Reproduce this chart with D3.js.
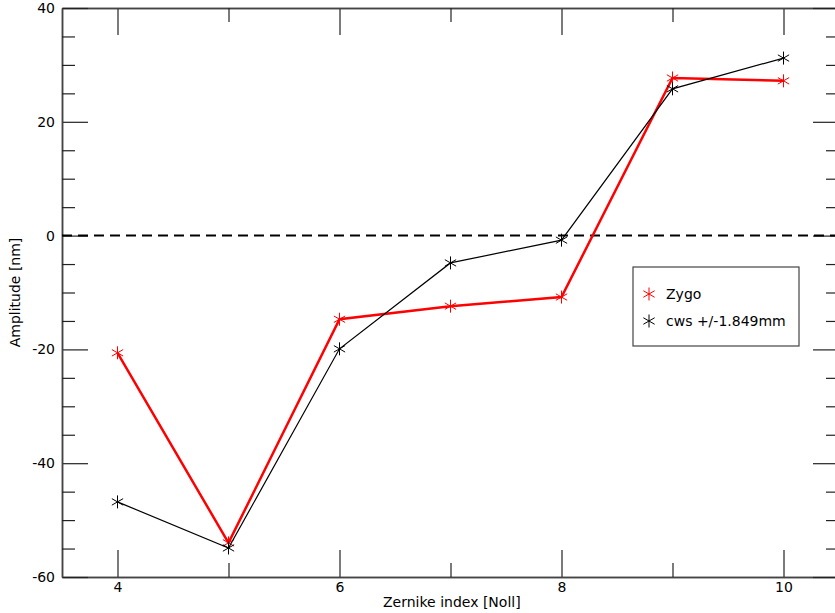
<!DOCTYPE html>
<html lang="en">
    <head>
        <meta charset="UTF-8">
        <title>zernike</title>
        <script src="https://cdn.jsdelivr.net/npm/d3@7"></script>
        <style>
            body { margin: 0; background: #fff; }
            text { font-family: "DejaVu Sans", sans-serif; }
        </style>
    </head>
    <body>
        <div id="chart"></div>
    </body>
    <script>
        // data
        var zernikeIndex = [4, 5, 6, 7, 8, 9, 10];
        var zygo = [-20.6, -54.0, -14.7, -12.4, -10.8, 27.7, 27.2];
        var cws = [-46.8, -54.9, -19.9, -4.8, -0.8, 25.8, 31.2];
        var xMajorTicks = [4, 6, 8, 10];
        var xMinorTicks = [5, 7, 9];
        var yMajorTicks = [-60, -40, -20, 0, 20, 40];
        var yMinorTicks = [-55, -50, -45, -35, -30, -25, -15, -10, -5, 5, 10, 15, 25, 30, 35];
        var legendNames = ["Zygo", "cws +/-1.849mm"];

        var width = 835, height = 613;
        var padding = {top: 8, left: 62, bottom: 36};
        var plotW = 777, plotH = height - padding.top - padding.bottom;

        var svg = d3.select("#chart").append("svg")
            .attr("width", width)
            .attr("height", height);

        var xScale = d3.scaleLinear().domain([3.5, 10.5]).range([0, plotW]);
        var yScale = d3.scaleLinear().domain([-60, 40]).range([plotH, 0]);

        var g = svg.append("g")
            .attr("transform", "translate(" + padding.left + "," + padding.top + ")");

        // plain hyphen minus like the original
        var plain = function (d) { return String(d); };

        //坐标轴
        function styleAxis(sel) {
            sel.select(".domain").attr("stroke", "#444").attr("stroke-width", 1.5);
            sel.selectAll(".tick line").attr("stroke", "#222").attr("stroke-width", 1.2);
            sel.selectAll(".tick text").attr("fill", "#000").style("font-size", "14px")
                .style("font-family", "DejaVu Sans, sans-serif");
        }
        g.append("g").attr("transform", "translate(0," + plotH + ")")
            .call(d3.axisBottom(xScale).tickValues(xMajorTicks).tickFormat(plain).tickSize(-27).tickPadding(5).tickSizeOuter(0))
            .call(styleAxis);
        g.append("g").attr("transform", "translate(0," + plotH + ")")
            .call(d3.axisBottom(xScale).tickValues(xMinorTicks).tickSize(-14).tickFormat("").tickSizeOuter(0))
            .call(styleAxis);
        g.append("g")
            .call(d3.axisTop(xScale).tickValues(xMajorTicks).tickSize(-27).tickFormat("").tickSizeOuter(0))
            .call(styleAxis);
        g.append("g")
            .call(d3.axisTop(xScale).tickValues(xMinorTicks).tickSize(-14).tickFormat("").tickSizeOuter(0))
            .call(styleAxis);
        g.append("g")
            .call(d3.axisLeft(yScale).tickValues(yMajorTicks).tickFormat(plain).tickSize(-26).tickPadding(7).tickSizeOuter(0))
            .call(styleAxis);
        g.append("g")
            .call(d3.axisLeft(yScale).tickValues(yMinorTicks).tickSize(-13).tickFormat("").tickSizeOuter(0))
            .call(styleAxis);
        g.append("g").attr("transform", "translate(" + plotW + ",0)")
            .call(d3.axisRight(yScale).tickValues(yMajorTicks).tickSize(-26).tickFormat("").tickSizeOuter(0))
            .call(styleAxis);
        g.append("g").attr("transform", "translate(" + plotW + ",0)")
            .call(d3.axisRight(yScale).tickValues(yMinorTicks).tickSize(-13).tickFormat("").tickSizeOuter(0))
            .call(styleAxis);

        //零线
        g.append("line")
            .attr("x1", 0).attr("x2", plotW)
            .attr("y1", yScale(0)).attr("y2", yScale(0))
            .attr("stroke", "#000")
            .attr("stroke-width", 2)
            .attr("stroke-dasharray", "10,6");

        //星号
        function asterisk(sel, r) {
            [90, 30, 150].forEach(function (a) {
                var rad = a * Math.PI / 180;
                sel.append("line")
                    .attr("x1", -r * Math.cos(rad)).attr("y1", -r * Math.sin(rad))
                    .attr("x2", r * Math.cos(rad)).attr("y2", r * Math.sin(rad));
            });
        }

        var series = [
            {name: legendNames[0], values: zygo, color: "#ff0000", width: 2.5},
            {name: legendNames[1], values: cws, color: "#000000", width: 1.2}
        ];

        var line = d3.line()
            .x(function (d, i) { return xScale(zernikeIndex[i]); })
            .y(function (d) { return yScale(d); });

        series.forEach(function (s) {
            g.append("path")
                .datum(s.values)
                .attr("fill", "none")
                .attr("stroke", s.color)
                .attr("stroke-width", s.width)
                .attr("d", line);
            g.selectAll(null)
                .data(s.values)
                .enter()
                .append("g")
                .attr("transform", function (d, i) {
                    return "translate(" + xScale(zernikeIndex[i]) + "," + yScale(d) + ")";
                })
                .attr("stroke", s.color)
                .attr("stroke-width", 1)
                .each(function () { asterisk(d3.select(this), 6.5); });
        });

        //图例
        var legend = svg.append("g").attr("transform", "translate(633,267)");
        legend.append("rect")
            .attr("width", 166).attr("height", 79)
            .attr("fill", "#fff")
            .attr("stroke", "#444")
            .attr("stroke-width", 1.2);
        series.forEach(function (s, i) {
            var row = legend.append("g").attr("transform", "translate(0," + (27 + i * 27) + ")");
            row.append("g")
                .attr("transform", "translate(16,0)")
                .attr("stroke", s.color)
                .attr("stroke-width", 1)
                .call(function (sel) { asterisk(sel, 6.5); });
            row.append("text")
                .attr("x", 33).attr("y", 0)
                .attr("dy", "0.35em")
                .style("font-size", "14px")
                .text(s.name);
        });

        //轴标题
        svg.append("text")
            .attr("x", 383)
            .attr("y", 607)
            .style("font-size", "14px")
            .text("Zernike index [Noll]");
        svg.append("text")
            .attr("transform", "translate(20," + (padding.top + yScale(-10)) + ") rotate(-90)")
            .attr("text-anchor", "middle")
            .style("font-size", "14px")
            .text("Amplitude [nm]");
    </script>
</html>
